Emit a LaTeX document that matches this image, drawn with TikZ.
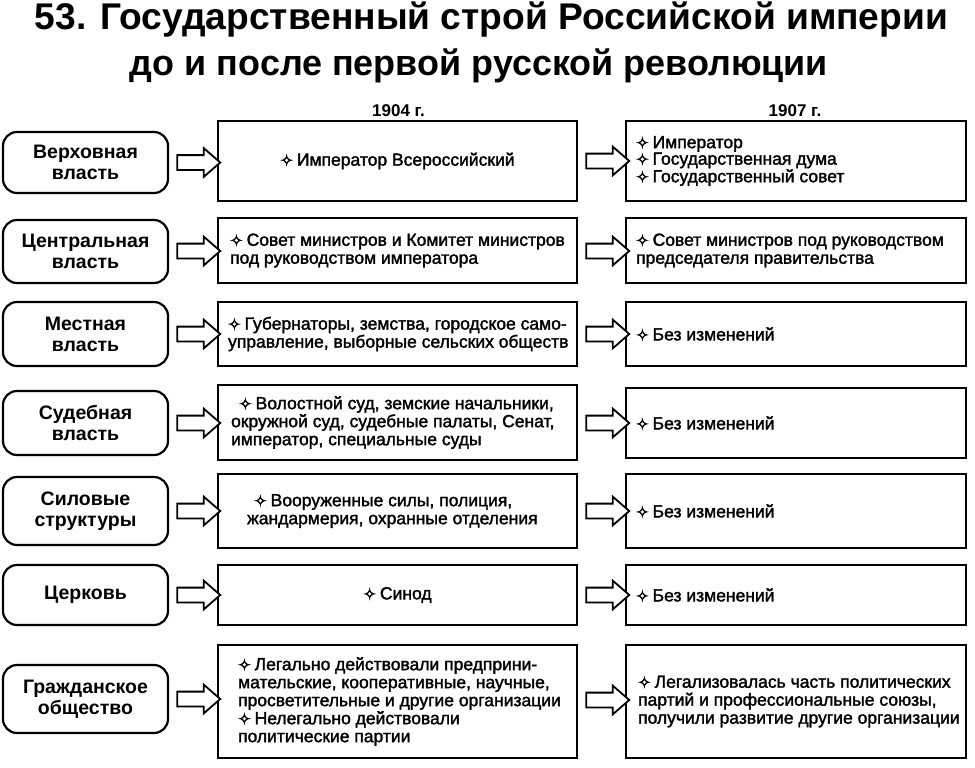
\documentclass[tikz,border=0pt]{standalone}
\usepackage{fontspec}
\usepackage{graphicx}
\setmainfont{Liberation Sans}
\newfontfamily\symfont[FakeBold=2.5]{DejaVu Sans}
\newfontfamily\bodyfont[FakeBold=1.8]{Liberation Sans}
\usetikzlibrary{shapes.arrows}
\newcommand{\bul}{{\symfont\fontsize{15}{15}\selectfont ✧}\hspace{4pt}}
\begin{document}
\begin{tikzpicture}[x=1pt,y=-1pt,
  lbox/.style={draw, line width=2.2pt, rounded corners=14pt, inner sep=0pt, minimum width=165pt},
  mbox/.style={draw, line width=2.2pt, inner sep=0pt, minimum width=359pt},
  rbox/.style={draw, line width=2.2pt, inner sep=0pt, minimum width=340pt},
  ltext/.style={align=center, font=\fontsize{19.5}{21}\selectfont\bfseries, inner sep=0pt},
  btext/.style={align=left, font=\bodyfont\fontsize{17.5}{18}\selectfont, inner sep=0pt},
  ctext/.style={align=center, font=\bodyfont\fontsize{17.5}{18}\selectfont, inner sep=0pt},
  hdr/.style={font=\fontsize{17}{17}\selectfont\bfseries, inner sep=0pt, anchor=base},
  barrow/.style={single arrow, draw, line width=1.8pt, minimum height=43pt, minimum width=27pt,
    single arrow head extend=7pt, single arrow tip angle=82, inner sep=0pt, fill=white}
]
\useasboundingbox (0,0) rectangle (975,768);

% Title
\node[anchor=base, inner sep=0pt] (t1) at (491.5,30)
  {\resizebox{913pt}{!}{\fontsize{37}{37}\selectfont\bfseries 53. Государственный строй Российской империи}};
\node[anchor=base, inner sep=0pt] (t2) at (479,76)
  {\resizebox{698pt}{!}{\fontsize{37}{37}\selectfont\bfseries до и после первой русской революции}};

% Column headers
\node[hdr] (h1) at (398.5,117) {1904 г.};
\node[hdr] (h2) at (795,117) {1907 г.};

% ---------- Row 1
\node[lbox, minimum height=61pt] (L1) at (85.5,162.5) {};
\node[ltext] (L1t) at (L1.center) {Верховная\\власть};
\node[mbox, minimum height=80pt] (M1) at (397.5,161) {};
\node[ctext] (M1t) at (M1.center) {\bul Император Всероссийский};
\node[rbox, minimum height=80pt] (R1) at (796,161) {};
\node[btext, anchor=west, font=\bodyfont\fontsize{17.5}{16.5}\selectfont] (R1t) at ([xshift=11pt]R1.west)
  {\bul Император\\\bul Государственная дума\\\bul Государственный совет};
\node[barrow] (A1) at (194.5,162.5) {\rule{0pt}{13pt}};
\node[barrow] (B1) at (603.5,161) {\rule{0pt}{13pt}};

% ---------- Row 2
\node[lbox, minimum height=63pt] (L2) at (85.5,251.5) {};
\node[ltext] (L2t) at (L2.center) {Центральная\\власть};
\node[mbox, minimum height=65pt] (M2) at (397.5,250.5) {};
\node[btext, anchor=west] (M2t) at ([xshift=13pt]M2.west)
  {\bul Совет министров и Комитет министров\\под руководством императора};
\node[rbox, minimum height=65pt] (R2) at (796,250.5) {};
\node[btext, anchor=west] (R2t) at ([xshift=11pt]R2.west)
  {\bul Совет министров под руководством\\председателя правительства};
\node[barrow] (A2) at (194.5,251) {\rule{0pt}{13pt}};
\node[barrow] (B2) at (603.5,251) {\rule{0pt}{13pt}};

% ---------- Row 3
\node[lbox, minimum height=64pt] (L3) at (85.5,334) {};
\node[ltext] (L3t) at (L3.center) {Местная\\власть};
\node[mbox, minimum height=64pt] (M3) at (397.5,334) {};
\node[btext, anchor=west] (M3t) at ([xshift=11pt]M3.west)
  {\bul Губернаторы, земства, городское само-\\управление, выборные сельских обществ};
\node[rbox, minimum height=64pt] (R3) at (796,334) {};
\node[btext, anchor=west] (R3t) at ([xshift=11pt]R3.west) {\bul Без изменений};
\node[barrow] (A3) at (194.5,334) {\rule{0pt}{13pt}};
\node[barrow] (B3) at (603.5,334) {\rule{0pt}{13pt}};

% ---------- Row 4
\node[lbox, minimum height=64pt] (L4) at (85.5,423) {};
\node[ltext] (L4t) at (L4.center) {Судебная\\власть};
\node[mbox, minimum height=75pt] (M4) at (397.5,422.5) {};
\node[btext, anchor=west] (M4t) at ([xshift=14pt]M4.west)
  {\hspace{8pt}\bul Волостной суд, земские начальники,\\окружной суд, судебные палаты, Сенат,\\император, специальные суды};
\node[rbox, minimum height=70pt] (R4) at (796,423) {};
\node[btext, anchor=west] (R4t) at ([xshift=11pt]R4.west) {\bul Без изменений};
\node[barrow] (A4) at (194.5,423) {\rule{0pt}{13pt}};
\node[barrow] (B4) at (603.5,423) {\rule{0pt}{13pt}};

% ---------- Row 5
\node[lbox, minimum height=68pt] (L5) at (85.5,511) {};
\node[ltext] (L5t) at (L5.center) {Силовые\\структуры};
\node[mbox, minimum height=74pt] (M5) at (397.5,511) {};
\node[btext, anchor=west] (M5t) at ([xshift=30pt]M5.west)
  {\hspace{7pt}\bul Вооруженные силы, полиция,\\жандармерия, охранные отделения};
\node[rbox, minimum height=74pt] (R5) at (796,511) {};
\node[btext, anchor=west] (R5t) at ([xshift=11pt]R5.west) {\bul Без изменений};
\node[barrow] (A5) at (194.5,511) {\rule{0pt}{13pt}};
\node[barrow] (B5) at (603.5,511) {\rule{0pt}{13pt}};

% ---------- Row 6
\node[lbox, minimum height=60pt] (L6) at (85.5,595) {};
\node[ltext] (L6t) at (L6.center) {Церковь};
\node[mbox, minimum height=60pt] (M6) at (397.5,595) {};
\node[ctext] (M6t) at (M6.center) {\bul Синод};
\node[rbox, minimum height=60pt] (R6) at (796,595) {};
\node[btext, anchor=west] (R6t) at ([xshift=11pt]R6.west) {\bul Без изменений};
\node[barrow] (A6) at (194.5,595) {\rule{0pt}{13pt}};
\node[barrow] (B6) at (603.5,595) {\rule{0pt}{13pt}};

% ---------- Row 7
\node[lbox, minimum height=68pt] (L7) at (85.5,699) {};
\node[ltext] (L7t) at (L7.center) {Гражданское\\общество};
\node[mbox, minimum height=113pt] (M7) at (397.5,701.5) {};
\node[btext, anchor=west] (M7t) at ([xshift=21pt]M7.west)
  {\bul Легально действовали предприни-\\мательские, кооперативные, научные,\\просветительные и другие организации\\\bul Нелегально действовали\\политические партии};
\node[rbox, minimum height=113pt] (R7) at (796,701.5) {};
\node[btext, anchor=west] (R7t) at ([xshift=13pt]R7.west)
  {\bul Легализовалась часть политических\\партий и профессиональные союзы,\\получили развитие другие организации};
\node[barrow] (A7) at (194.5,699) {\rule{0pt}{13pt}};
\node[barrow] (B7) at (603.5,700) {\rule{0pt}{13pt}};
\end{tikzpicture}
\end{document}
